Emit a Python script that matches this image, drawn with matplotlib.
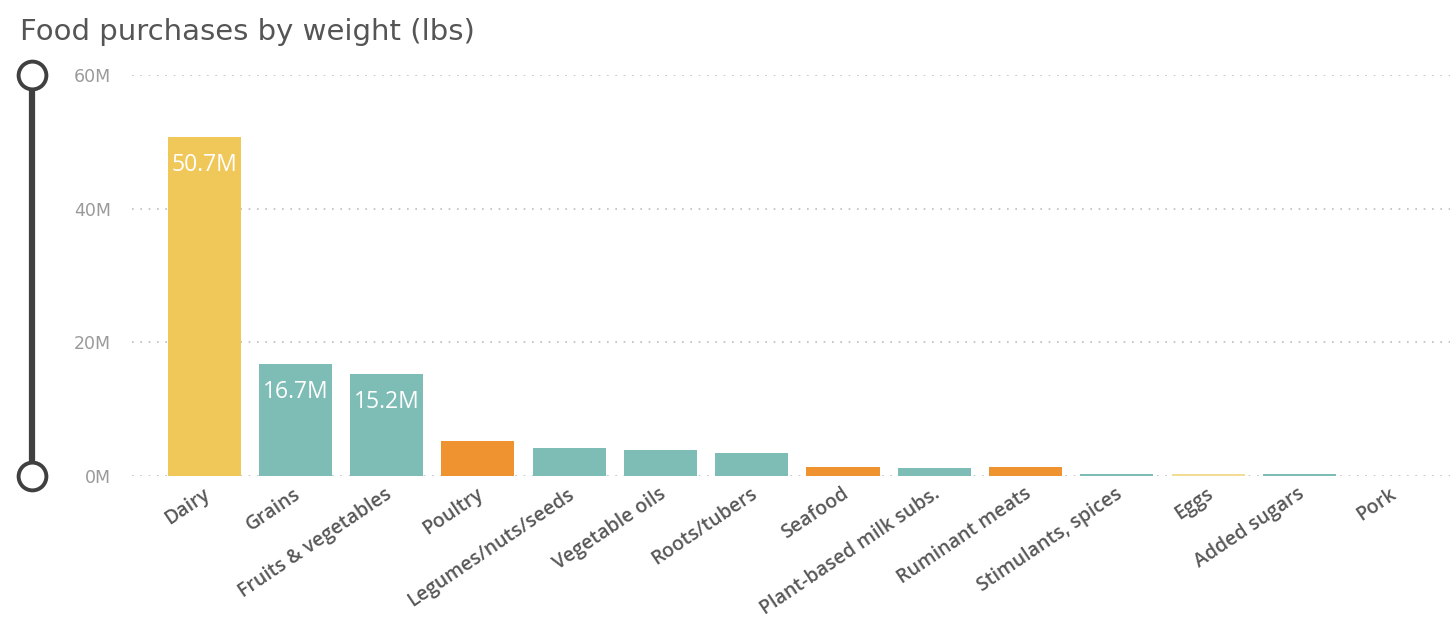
import matplotlib
matplotlib.use("Agg")
import matplotlib.pyplot as plt
import matplotlib.transforms as mtrans
from matplotlib.lines import Line2D
from matplotlib.ticker import FuncFormatter

# data (millions of lbs)
categories = ["Dairy", "Grains", "Fruits & vegetables", "Poultry", "Legumes/nuts/seeds",
              "Vegetable oils", "Roots/tubers", "Seafood", "Plant-based milk subs.",
              "Ruminant meats", "Stimulants, spices", "Eggs", "Added sugars", "Pork"]
values = [50.7, 16.7, 15.2, 5.3, 4.2, 3.9, 3.5, 1.4, 1.2, 1.3, 0.25, 0.3, 0.25, 0.05]
groups = ["dairy", "plant", "plant", "meat", "plant", "plant", "plant", "meat",
          "plant", "meat", "plant", "eggs", "plant", "meat"]
labelled = ["50.7M", "16.7M", "15.2M"]
yticks = [0, 20, 40, 60]

colors = {"dairy": "#F0C85A", "plant": "#7DBDB6", "meat": "#EF9230", "eggs": "#F3DC95"}

fig = plt.figure(figsize=(14.5, 6.22), dpi=100)
bottom = 1 - 476 / 622
top = 1 - 75 / 622
ax = fig.add_axes([0.091, bottom, 0.909, top - bottom])

x = list(range(len(categories)))
bars = ax.bar(x, values, width=0.8, color=[colors[g] for g in groups], zorder=3)

# value labels inside the three tallest bars
for b, txt in zip(bars, labelled):
    ax.text(b.get_x() + b.get_width() / 2, b.get_height() - 2.4, txt, ha="center", va="top",
            color="white", fontsize=16.5, family="Open Sans", zorder=4)

ax.set_ylim(0, 60)
ax.set_xlim(-0.79, 13.65)
ax.set_yticks(yticks)
ax.yaxis.set_major_formatter(FuncFormatter(lambda v, p: f"{int(v)}M"))
ax.grid(axis="y", linestyle=(0, (1, 4)), color="#BDBDBD", linewidth=1.2, zorder=0)
for s in ax.spines.values():
    s.set_visible(False)
ax.tick_params(axis="y", length=0, pad=15)
for lbl in ax.get_yticklabels():
    lbl.set_fontsize(12.5)
    lbl.set_color("#9A9A9A")
    lbl.set_family("DejaVu Sans")
ax.tick_params(axis="x", length=0, pad=0)
ax.set_xticks(x)
ax.set_xticklabels(categories, rotation=34, ha="right", rotation_mode="anchor",
                   fontsize=14, color="#585858", family="Open Sans", fontweight="semibold")
# nudge tick labels so their right end sits at the bar centre, a bit below the axis
offset = mtrans.ScaledTranslation(-2 / 100, -8 / 100, fig.dpi_scale_trans)
for lbl in ax.get_xticklabels():
    lbl.set_transform(lbl.get_transform() + offset)

# title
fig.text(0.0138, 0.935, "Food purchases by weight (lbs)", fontsize=21, color="#555555",
         family="DejaVu Sans", ha="left", va="baseline")

# range slider on the left
xs = 32 / 1450
fig.add_artist(Line2D([xs, xs], [bottom, top], transform=fig.transFigure, color="#404040",
                      linewidth=4.5, solid_capstyle="butt"))
fig.add_artist(Line2D([xs, xs], [bottom, top], transform=fig.transFigure, linestyle="none",
                      marker="o", markersize=20, markerfacecolor="white",
                      markeredgecolor="#404040", markeredgewidth=2.8))

fig.savefig("out.png", dpi=100, facecolor="white")
